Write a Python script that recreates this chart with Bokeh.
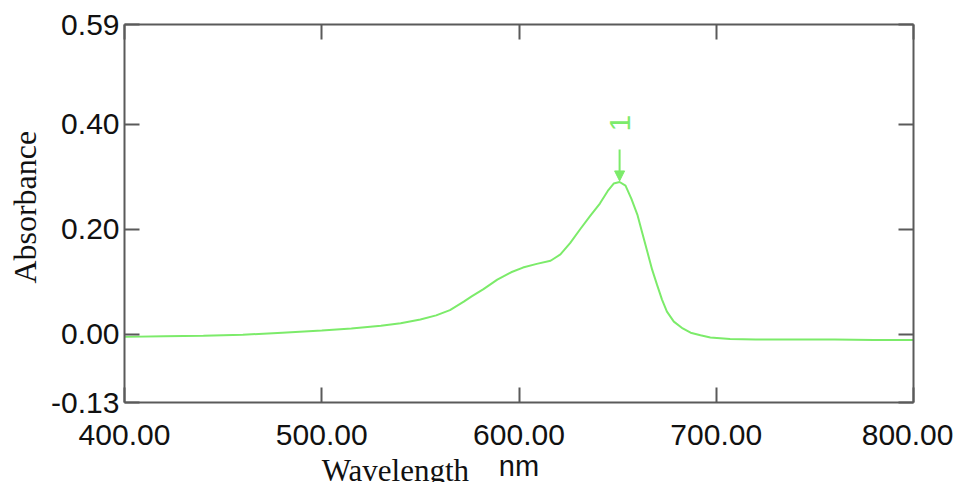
import math
from bokeh.plotting import figure
from bokeh.models import (Range1d, FixedTicker, LinearAxis, Label, Arrow, NormalHead,
                          CustomJSTickFormatter, ColumnDataSource)
from bokeh.embed import file_html
from bokeh.resources import INLINE

# ---- data ----
wavelength = [400, 420, 440, 460, 480, 500, 515, 530, 540, 550, 558, 565, 572, 576, 582,
              589, 596, 602, 609, 616, 621, 626, 631, 636, 641, 645, 648, 651, 654, 657,
              660, 662.5, 665, 667.5, 670, 672.5, 675, 678.5, 683, 687, 692, 697, 707,
              720, 740, 760, 780, 800]
absorbance = [-0.005, -0.004, -0.003, -0.001, 0.003, 0.007, 0.011, 0.016, 0.021, 0.028,
              0.036, 0.046, 0.062, 0.072, 0.086, 0.104, 0.118, 0.127, 0.134, 0.140, 0.152,
              0.174, 0.200, 0.225, 0.249, 0.273, 0.287, 0.290, 0.283, 0.258, 0.228, 0.193,
              0.158, 0.123, 0.094, 0.066, 0.043, 0.024, 0.011, 0.003, -0.002, -0.006,
              -0.009, -0.010, -0.010, -0.010, -0.011, -0.011]
x_ticks = [400, 500, 600, 700, 800]
y_ticks = [-0.13, 0.0, 0.20, 0.40, 0.59]
peak_wavelength = 651
peak_absorbance = 0.290
peak_name = "1"

LINE = "#7CEB6A"
AXC = "#5a5a5a"
SANS = "Liberation Sans"
SERIF = "Liberation Serif"

p = figure(frame_width=789, frame_height=378, output_backend="svg", toolbar_location=None,
           x_range=Range1d(400, 800), y_range=Range1d(-0.13, 0.59),
           x_axis_location=None, y_axis_location=None,
           min_border_left=124, min_border_top=24, min_border_right=40, min_border_bottom=70)
p.outline_line_color = None
p.xgrid.visible = False
p.ygrid.visible = False
p.background_fill_color = "white"
p.border_fill_color = "white"

fmt = CustomJSTickFormatter(code="return tick.toFixed(2);")
blank = CustomJSTickFormatter(code="return '';")

def style(ax, labels=True):
    ax.axis_line_color = AXC
    ax.axis_line_width = 2
    ax.major_tick_line_color = AXC
    ax.major_tick_line_width = 2
    ax.major_tick_in = 15
    ax.major_tick_out = 0
    ax.minor_tick_line_color = None
    ax.major_label_text_font = SANS
    ax.major_label_text_font_size = "30px"
    ax.major_label_text_color = "#111111"
    if not labels:
        ax.major_label_text_font_size = "0px"
        ax.major_label_standoff = 0

bottom = LinearAxis(ticker=FixedTicker(ticks=x_ticks), formatter=fmt)
style(bottom)
bottom.major_label_standoff = 22
bottom.axis_label = "nm"
bottom.axis_label_text_font = SANS
bottom.axis_label_text_font_style = "normal"
bottom.axis_label_text_font_size = "29px"
bottom.axis_label_text_color = "#111111"
bottom.axis_label_standoff = 2

left = LinearAxis(ticker=FixedTicker(ticks=y_ticks), formatter=fmt)
style(left)
left.major_label_standoff = 5

top = LinearAxis(ticker=FixedTicker(ticks=x_ticks), formatter=blank)
style(top, labels=False)
right = LinearAxis(ticker=FixedTicker(ticks=y_ticks), formatter=blank)
style(right, labels=False)
p.add_layout(bottom, "below")
p.add_layout(left, "left")
p.add_layout(top, "above")
p.add_layout(right, "right")

# axis titles (placed in the side panels so they are not clipped by the frame)
p.add_layout(Label(x=500, y=-0.259, text="Wavelength", text_align="left",
                   text_baseline="alphabetic", text_font=SERIF, text_font_size="31px",
                   text_color="#111111"), "below")
p.add_layout(Label(x=349.8, y=0.242, text="Absorbance", angle=math.pi / 2,
                   text_align="center", text_baseline="middle", text_font=SERIF,
                   text_font_size="32px", text_color="#111111"), "left")

src = ColumnDataSource(dict(x=wavelength, y=absorbance))
p.line("x", "y", source=src, line_color=LINE, line_width=2)

# peak marker
p.add_layout(Arrow(x_start=peak_wavelength, y_start=0.352, x_end=peak_wavelength, y_end=peak_absorbance + 0.002,
                   line_color=LINE, line_width=2,
                   end=NormalHead(size=10, fill_color=LINE, line_color=LINE)))
p.add_layout(Label(x=peak_wavelength, y=0.402, text=peak_name, angle=math.pi / 2,
                   text_align="center", text_baseline="middle", text_color=LINE,
                   text_font=SANS, text_font_size="30px"))

open("out.html", "w").write(file_html(p, INLINE))
